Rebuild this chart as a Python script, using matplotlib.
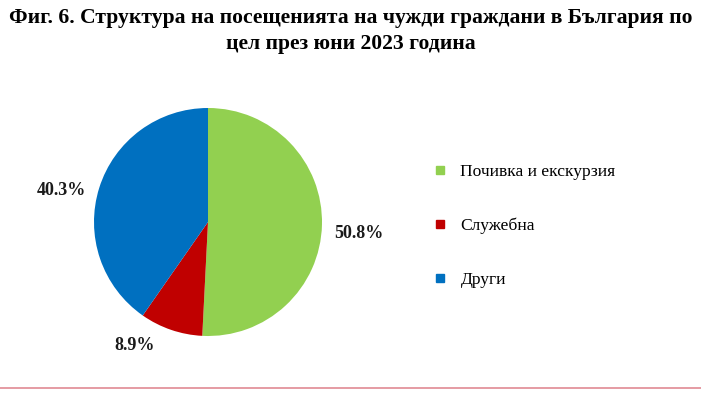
import matplotlib
matplotlib.use('Agg')
import matplotlib.pyplot as plt
from matplotlib.lines import Line2D

categories = ['Почивка и екскурзия', 'Служебна', 'Други']
shares = [50.8, 8.9, 40.3]
colors = ['#92D050', '#C00000', '#0070C0']
title = 'Фиг. 6. Структура на посещенията на чужди граждани в България по\nцел през юни 2023 година'

# label placement (in pie radius units), Excel "best fit" style
label_pos = [(1.32, -0.105), (-0.64, -1.08), (-1.29, 0.28)]

plt.rcParams['font.family'] = ['Liberation Serif', 'DejaVu Serif']

W, H = 701, 393
fig = plt.figure(figsize=(W / 100, H / 100), dpi=100)

cx, cy, r = 208, 222, 114
ax = fig.add_axes([(cx - r) / W, (H - cy - r) / H, 2 * r / W, 2 * r / H])
ax.pie(shares, colors=colors, startangle=90, counterclock=False, radius=1,
       wedgeprops=dict(linewidth=0))
ax.set_xlim(-1, 1)
ax.set_ylim(-1, 1)
ax.set_aspect('equal')
ax.axis('off')

for val, (x, y) in zip(shares, label_pos):
    ax.text(x, y, f'{val:.1f}%', ha='center', va='center', fontsize=13,
            fontweight='bold', color='#1a1a1a')

fig.text(0.5, 1 - 31 / H, title, ha='center', va='center', fontsize=15.6,
         fontweight='bold', linespacing=1.45)

handles = [Line2D([], [], marker='s', linestyle='none', markersize=6,
                  markerfacecolor=c, markeredgecolor=c) for c in colors]
fig.legend(handles, categories, loc='center left',
           bbox_to_anchor=(415 / W, 1 - 226 / H), frameon=False, fontsize=12.6,
           labelspacing=2.15, handletextpad=0.7, handlelength=1.0)

fig.add_artist(Line2D([0, 1], [1 - 388 / H, 1 - 388 / H], color='#E08A94',
                      linewidth=1.2))

fig.savefig('out.png', dpi=100)
